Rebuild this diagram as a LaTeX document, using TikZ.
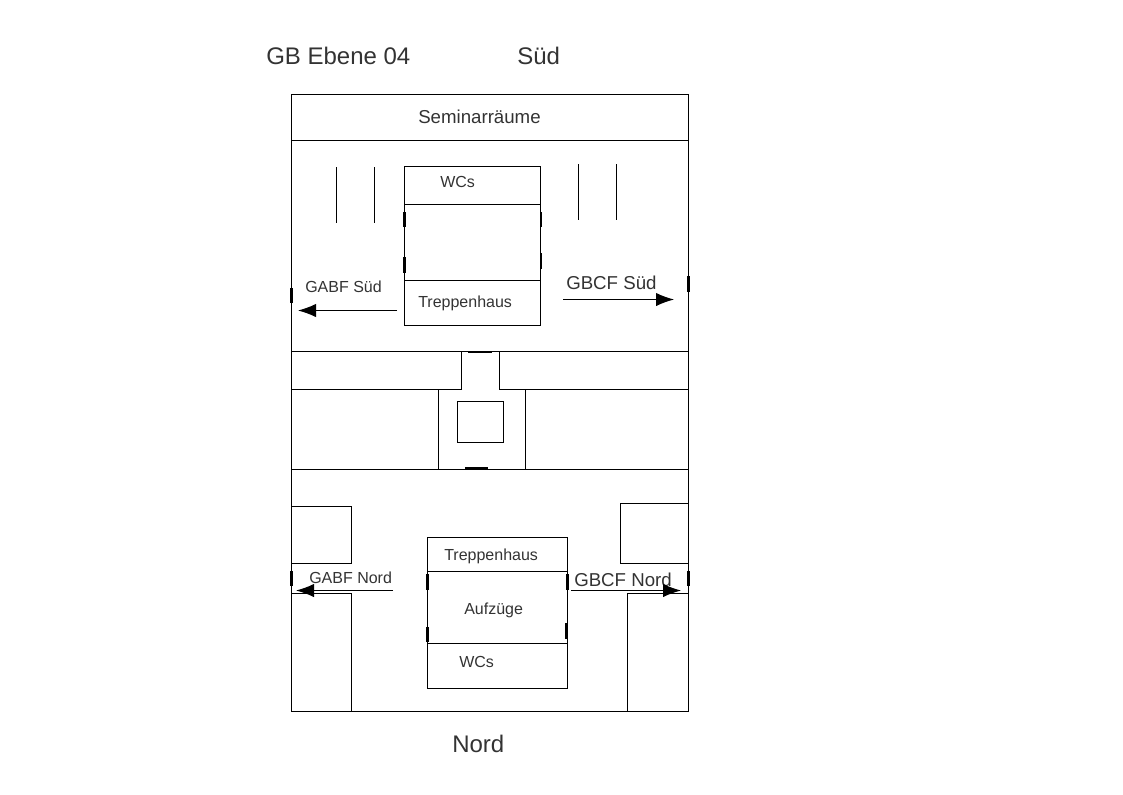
\documentclass[tikz,border=0pt]{standalone}
\usepackage{fontspec}
\setmainfont{Liberation Sans}
\usepackage{xcolor}
\usetikzlibrary{arrows.meta}
\definecolor{labelgrey}{HTML}{333333}
\tikzset{>={Latex[length=13.5pt,width=10pt]}}
\tikzset{wall/.style={draw=black,line width=0.75pt}}
\tikzset{doormark/.style={draw=black,line width=2pt}}
\tikzset{way/.style={wall,->}}
\tikzset{smalltxt/.style={anchor=base west,inner sep=0pt,text=labelgrey,font=\fontsize{12}{14}\selectfont}}
\tikzset{midtxt/.style={smalltxt,font=\fontsize{14}{16}\selectfont}}
\tikzset{bigtxt/.style={smalltxt,font=\fontsize{18}{21}\selectfont}}

\begin{document}
\begin{tikzpicture}[x=0.75pt,y=-0.75pt]
\useasboundingbox (0,0) rectangle (1123,794);

% Titles
\node[bigtxt] (title) at (266,64) {GB Ebene 04};
\node[bigtxt] (sued) at (517,64) {Süd};
\node[bigtxt] (nord) at (452,752) {Nord};

% Outer walls
\draw[wall] (291.5,94.5) rectangle (688.5,711.5);
\draw[wall] (291.5,140.5)--(688.5,140.5);
\draw[wall] (291.5,351.5)--(688.5,351.5);
\draw[wall] (291.5,469.5)--(688.5,469.5);
\node[midtxt] (seminar) at (418,123) {Seminarräume};

% South core
\draw[wall] (404.5,166.5) rectangle (540.5,325.5);
\draw[wall] (404.5,204.5)--(540.5,204.5);
\draw[wall] (404.5,280.5)--(540.5,280.5);
\node[smalltxt] (wcsued) at (440,187) {WCs};
\node[smalltxt] (treppesued) at (418,307) {Treppenhaus};

% South strokes
\foreach \xpos in {336.5,374.5} \draw[wall] (\xpos,167)--(\xpos,223);
\foreach \xpos in {578.5,616.5} \draw[wall] (\xpos,164)--(\xpos,220);

% South exits
\node[smalltxt] (gabfsued) at (305,292) {GABF Süd};
\node[midtxt] (gbcfsued) at (566,289) {GBCF Süd};
\draw[way] (397,310.5)--(298,310.5);
\draw[way] (563,299.5)--(674,299.5);

% Middle part
\draw[wall] (291.5,389.5)--(461.5,389.5)--(461.5,351.5);
\draw[wall] (688.5,389.5)--(499.5,389.5)--(499.5,351.5);
\draw[wall] (438.5,389.5)--(438.5,469.5);
\draw[wall] (525.5,389.5)--(525.5,469.5);
\draw[wall] (457.5,401.5) rectangle (503.5,442.5);

% North rooms
\draw[wall] (291.5,506.5)--(351.5,506.5)--(351.5,563.5)--(291.5,563.5);
\draw[wall] (688.5,503.5)--(620.5,503.5)--(620.5,563.5)--(688.5,563.5);
\draw[wall] (291.5,593.5)--(351.5,593.5)--(351.5,711.5);
\draw[wall] (688.5,593.5)--(627.5,593.5)--(627.5,711.5);

% North core
\draw[wall] (427.5,537.5) rectangle (567.5,688.5);
\draw[wall] (427.5,571.5)--(567.5,571.5);
\draw[wall] (427.5,643.5)--(567.5,643.5);
\node[smalltxt] (treppenord) at (444,560) {Treppenhaus};
\node[smalltxt] (aufzuege) at (464,614) {Aufzüge};
\node[smalltxt] (wcnord) at (459,667) {WCs};

% North exits
\node[smalltxt] (gabfnord) at (309,583) {GABF Nord};
\node[midtxt] (gbcfnord) at (574,586) {GBCF Nord};
\draw[way] (393,590.5)--(296,590.5);
\draw[way] (571,590.5)--(681,590.5);

% Door marks
\draw[doormark] (404.5,212)--(404.5,227);
\draw[doormark] (404.5,257)--(404.5,273);
\draw[doormark] (541,212)--(541,227);
\draw[doormark] (541,253)--(541,269);
\draw[doormark] (291.5,288)--(291.5,303);
\draw[doormark] (688.5,276)--(688.5,292);
\draw[doormark] (468,352)--(492,352);
\draw[doormark] (465,468.5)--(488,468.5);
\draw[doormark] (291.5,571)--(291.5,586);
\draw[doormark] (688.5,571)--(688.5,586);
\draw[doormark] (427.5,574)--(427.5,590);
\draw[doormark] (427.5,627)--(427.5,642);
\draw[doormark] (567.5,574)--(567.5,590);
\draw[doormark] (566.5,623)--(566.5,639);

\end{tikzpicture}
\end{document}
